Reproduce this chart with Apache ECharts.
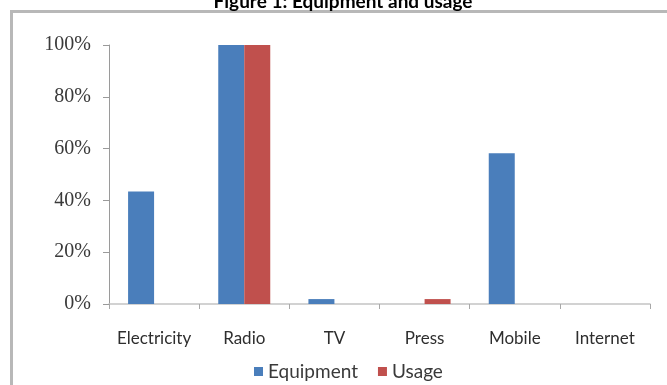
<!DOCTYPE html>
<html>
<head>
<meta charset="utf-8">
<script src="https://cdn.jsdelivr.net/npm/echarts@6/dist/echarts.min.js"></script>
<style>
  html, body { margin: 0; padding: 0; background: #ffffff; }
  #chart { width: 667px; height: 385px; }
</style>
</head>
<body>
<div id="chart"></div>
<script>
// Categories and shares (percent) for each series
const categories = ['Electricity', 'Radio', 'TV', 'Press', 'Mobile', 'Internet'];
const equipment = [43.4, 100, 1.9, 0, 58.2, 0];
const usage = [0, 100, 0, 1.9, 0, 0];
const yTicks = [0, 20, 40, 60, 80, 100];

const chart = echarts.init(document.getElementById('chart'), null, { renderer: 'canvas' });

chart.setOption({
  animation: false,
  backgroundColor: '#ffffff',
  title: {
    text: 'Figure 1: Equipment and usage',
    left: 338,
    top: -13,
    textAlign: 'center',
    textStyle: { fontFamily: 'Lato', fontWeight: 'bold', fontSize: 19, color: '#000000' }
  },
  graphic: [{
    type: 'rect',
    shape: { x: 11.5, y: 11.5, width: 700, height: 400 },
    style: { fill: 'none', stroke: '#b8b8b8', lineWidth: 3 },
    z: -1
  }],
  legend: {
    data: ['Equipment', 'Usage'],
    left: 249,
    top: 357,
    itemWidth: 9,
    itemHeight: 9,
    itemGap: 20,
    icon: 'rect',
    textStyle: { fontFamily: 'Lato', fontSize: 19, color: '#3a3a3a' }
  },
  grid: { left: 109, right: 17, top: 45, bottom: 81, containLabel: false },
  xAxis: {
    type: 'category',
    data: categories,
    axisLine: { lineStyle: { color: '#c4c4c4', width: 1.5 } },
    axisTick: { show: true, length: 5, lineStyle: { color: '#a8a8a8' } },
    axisLabel: { interval: 0, margin: 26, fontFamily: 'Lato', fontSize: 17, color: '#2e2e2e' }
  },
  yAxis: {
    type: 'value',
    min: 0,
    max: 100,
    interval: 20,
    axisLine: { show: true, lineStyle: { color: '#9a9a9a' } },
    axisTick: { show: true, length: 6, lineStyle: { color: '#9a9a9a' } },
    splitLine: { show: false },
    axisLabel: {
      margin: 18,
      fontFamily: 'Liberation Serif',
      fontSize: 20,
      color: '#3a3a3a',
      formatter: v => yTicks.includes(v) ? v + '%' : ''
    }
  },
  series: [
    {
      name: 'Equipment',
      type: 'bar',
      data: equipment,
      barWidth: 26,
      barGap: '0%',
      itemStyle: { color: '#4a7ebb' }
    },
    {
      name: 'Usage',
      type: 'bar',
      data: usage,
      barWidth: 26,
      barGap: '0%',
      itemStyle: { color: '#c0504d' }
    }
  ]
});
</script>
</body>
</html>
